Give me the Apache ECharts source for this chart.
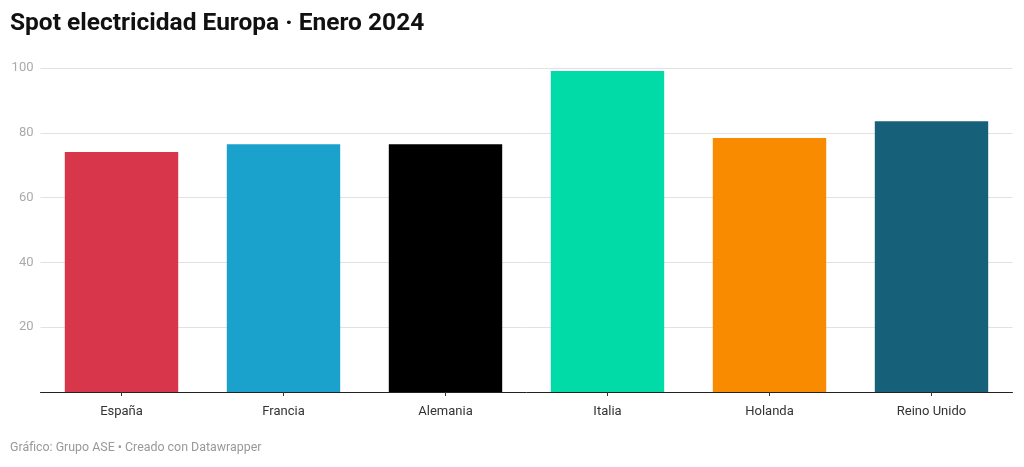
<!DOCTYPE html>
<html><head><meta charset="utf-8">
<script src="https://cdn.jsdelivr.net/npm/echarts@6/dist/echarts.min.js"></script>
<style>html,body{margin:0;padding:0;background:#fff;}#c{width:1024px;height:467px;}</style>
</head><body><div id="c"></div>
<script>
const categories = ["España","Francia","Alemania","Italia","Holanda","Reino Unido"];
const values = [74.1, 76.5, 76.5, 99.1, 78.4, 83.6];
const colors = ["#d8364a","#1aa1cc","#000000","#00dba8","#f98b00","#17607a"];
const yTicks = [0,20,40,60,80,100];

const chart = echarts.init(document.getElementById('c'), null, {renderer:'canvas'});
chart.setOption({
  animation:false,
  backgroundColor:'#fff',
  title:[{
    text:'Spot electricidad Europa · Enero 2024',
    left:10, top:11, padding:0,
    textStyle:{fontFamily:'Roboto', fontWeight:'bold', fontSize:24.5, color:'#111'}
  },{
    text:'Gráfico: Grupo ASE • Creado con Datawrapper',
    left:10, top:442, padding:0,
    textStyle:{fontFamily:'Roboto', fontWeight:'normal', fontSize:12.4, color:'#999'}
  }],
  grid:{left:40.5, right:11.5, top:68, bottom:75, containLabel:false},
  xAxis:{
    type:'category', data:categories,
    axisLine:{lineStyle:{color:'#222', width:1}},
    axisTick:{show:true, alignWithLabel:true, length:4, lineStyle:{color:'#333'}},
    axisLabel:{fontFamily:'Roboto', fontSize:13, color:'#333', margin:13}
  },
  yAxis:{
    type:'value', min:yTicks[0], max:yTicks[yTicks.length-1], interval:20,
    axisLine:{show:false}, axisTick:{show:false},
    axisLabel:{fontFamily:'Roboto', fontSize:13, color:'#aaa', margin:7,
      formatter:v => v===0 ? '' : String(v)},
    splitLine:{lineStyle:{color:'#e2e2e2', width:1}}
  },
  series:[{
    type:'bar', barWidth:'70%',
    data: values.map((v,i)=>({value:v, itemStyle:{color:colors[i]}}))
  }]
});
</script></body></html>
